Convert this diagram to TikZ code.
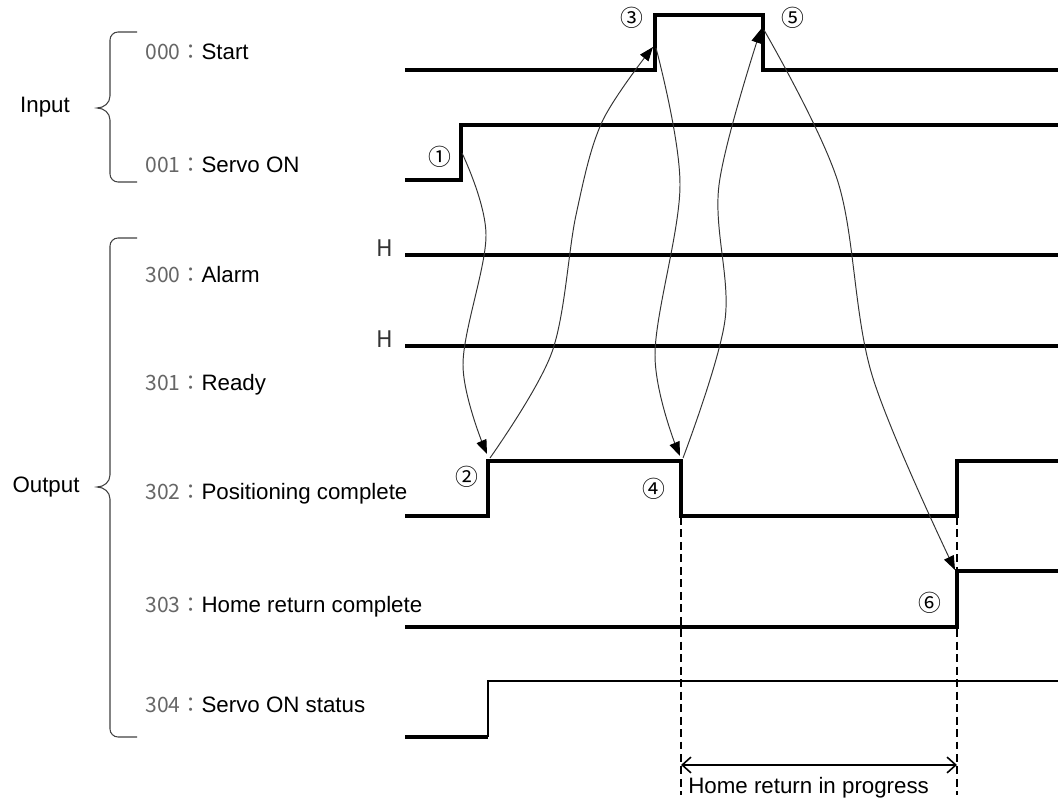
\documentclass[tikz,border=0pt]{standalone}
\usepackage{fontspec}
\setmainfont{Liberation Sans}
\newfontfamily\cjk{Noto Sans CJK JP}
\usetikzlibrary{arrows.meta}

\tikzset{
    sig/.style={line width=2.1pt, line join=miter},
    thinsig/.style={line width=1.3pt, line join=miter},
    flow/.style={line width=0.55pt, draw=black!80, -{Triangle[length=8pt,width=6pt,color=black]}},
    brace/.style={line width=0.6pt, draw=black!75},
    guide/.style={line width=0.9pt, dash pattern=on 4.5pt off 2.6pt},
    txt/.style={inner sep=0pt, font=\fontsize{12.7}{15}\selectfont},
    lbl/.style={txt, anchor=west},
    num/.style={inner sep=0pt, font=\cjk\fontsize{13}{15}\selectfont},
}

\newcommand{\code}[1]{{\cjk\fontsize{12}{14}\selectfont\color{black!60}#1：}}

\begin{document}
\begin{tikzpicture}[x=0.02cm, y=-0.02cm]
    \useasboundingbox (0,0) rectangle (1058,800);

    % Group braces
    \draw[brace] (137,32) -- (118,32) to[out=180,in=90] (110,40) -- (110,96)
        to[out=-90,in=0] (97,108) to[out=0,in=90] (110,120) -- (110,174)
        to[out=-90,in=180] (118,182) -- (137,182);
    \draw[brace] (137,238) -- (118,238) to[out=180,in=90] (110,246) -- (110,475)
        to[out=-90,in=0] (97,487) to[out=0,in=90] (110,499) -- (110,729)
        to[out=-90,in=180] (118,737) -- (137,737);
    \node[txt] (input) at (45,107) {Input};
    \node[txt] (output) at (46,487) {Output};

    % Signal names
    \foreach \n/\name/\y in {000/Start/52, 001/Servo ON/165, 300/Alarm/275,
        301/Ready/385, 302/Positioning complete/494, 303/Home return complete/607,
        304/Servo ON status/705} {
        \node[lbl] (lbl\n) at (145,\y) {\code{\n}\name};
    }

    % Input waveforms
    \draw[sig] (405,70) -- (655,70) -- (655,15) coordinate (st up) -- (763,15)
        coordinate (st down) -- (763,70) -- (1058,70);
    \draw[sig] (405,180) -- (461,180) -- (461,125) -- (1058,125);
    \coordinate (sv up) at (462,153);

    % Output waveforms
    \foreach \y in {255,346} {
        \draw[sig] (405,\y) -- (1058,\y);
        \node[txt, font=\cjk\fontsize{13}{15}\selectfont, text=black!80] (h\y) at (385,\y-7) {H};
    }
    \draw[sig] (405,516) -- (488,516) -- (488,461) coordinate (pc up) -- (681,461)
        coordinate (pc down) -- (681,516) -- (957,516) -- (957,461) -- (1058,461);
    \draw[sig] (405,627) -- (957,627) -- (957,571) coordinate (hc up) -- (1058,571);
    \draw[sig] (405,737) -- (488,737);
    \draw[thinsig] (488,737) -- (488,681) -- (1058,681);

    % Home return period
    \draw[guide] (681,517) coordinate (hr top) -- (681,795) coordinate (hr bot);
    \draw[guide] (957,517) -- (957,795);
    \coordinate (hr1) at (681,765);
    \coordinate (hr2) at (957,765);
    \draw[line width=0.9pt, {Straight Barb[length=5pt,width=9pt]}-{Straight Barb[length=5pt,width=9pt]}] (hr1) -- (hr2);
    \node[txt, anchor=west] (hr text) at (688,788) {Home return in progress};

    % Step numbers
    \foreach \c/\x/\y in {①/440/157, ②/467/477, ③/632/18, ④/654/489, ⑤/793/18, ⑥/930/603} {
        \node[num] (step\x) at (\x,\y) {\c};
    }

    % Cause and effect arrows
    \draw[flow] plot[smooth, tension=0.55] coordinates {(sv up) (486,235) (463,365) (487,454)};
    \draw[flow] plot[smooth, tension=0.55] coordinates {(490,458) (552,352) (576,215) (602,122) (653,47)};
    \draw[flow] plot[smooth, tension=0.55] coordinates {(656,48) (680,185) (655,355) (680,456)};
    \draw[flow] plot[smooth, tension=0.55] coordinates {(683,458) (725,320) (719,185) (761,29)};
    \draw[flow] plot[smooth, tension=0.55] coordinates {(764,30) (838,182) (872,375) (955,570)};
\end{tikzpicture}
\end{document}
